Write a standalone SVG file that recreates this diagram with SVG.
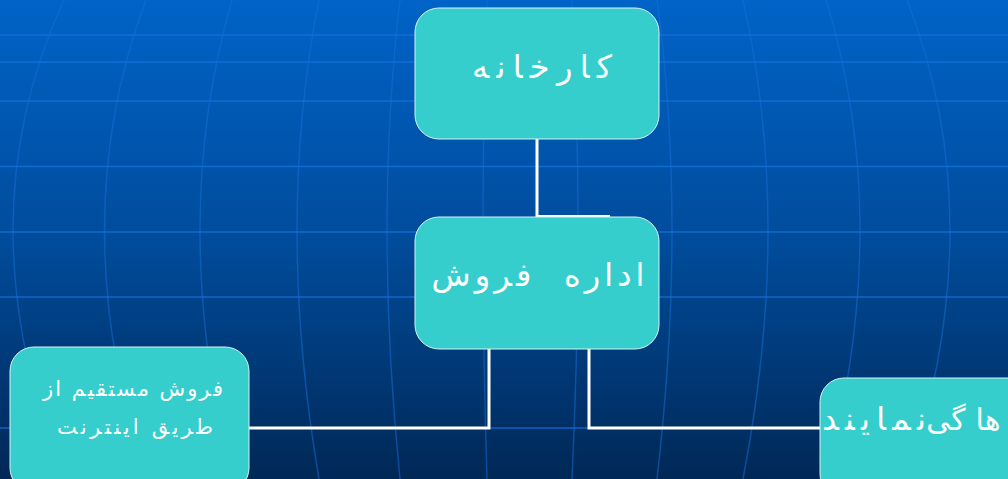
<svg xmlns="http://www.w3.org/2000/svg" width="1008" height="479" viewBox="0 0 1008 479">
<defs>
<linearGradient id="bg" x1="0" y1="0" x2="0" y2="1">
<stop offset="0" stop-color="#0063C7"/>
<stop offset="0.5" stop-color="#004C9C"/>
<stop offset="1" stop-color="#002856"/>
</linearGradient>
<style>
.grid{stroke:#1673E0;stroke-width:1.6;fill:none;opacity:0.75}
.mer{stroke:#1670DA;stroke-width:1.5;fill:none;opacity:0.5}
.node{fill:#35CECC;stroke:#D8F2F2;stroke-width:1}
.lbl{fill:#FFFFFF;font-family:"DejaVu Sans",sans-serif;text-anchor:middle;direction:rtl}
.con{stroke:#FFFFFF;stroke-width:3;fill:none}
</style>
</defs>
<rect width="1008" height="479" fill="url(#bg)"/>
<g id="background-grid">
<line class="grid" x1="0" y1="35" x2="1008" y2="35"/>
<line class="grid" x1="0" y1="62" x2="1008" y2="62" opacity="0.25"/>
<line class="grid" x1="0" y1="101" x2="1008" y2="101"/>
<line class="grid" x1="0" y1="166.5" x2="1008" y2="166.5"/>
<line class="grid" x1="0" y1="232" x2="1008" y2="232"/>
<line class="grid" x1="0" y1="297" x2="1008" y2="297"/>
<line class="grid" x1="0" y1="428" x2="1008" y2="428" opacity="0.3"/>
<path class="mer" d="M64,0 Q-38,221 64,479"/>
<path class="mer" d="M146,0 Q63,221 146,479"/>
<path class="mer" d="M232,0 Q168,221 232,479"/>
<path class="mer" d="M319,0 Q275,221 319,479"/>
<path class="mer" d="M400,0 Q374,221 400,479"/>
<path class="mer" d="M487,0 Q479,221 487,479"/>
<path class="mer" d="M572,0 Q584,221 572,479"/>
<path class="mer" d="M657,0 Q687,221 657,479"/>
<path class="mer" d="M743,0 Q793,221 743,479"/>
<path class="mer" d="M826,0 Q894,221 826,479"/>
<path class="mer" d="M907,0 Q993,221 907,479"/>
</g>
<g id="connectors">
<line class="con" x1="537" y1="139" x2="537" y2="217"/>
<line x1="537" y1="216" x2="610" y2="216" stroke="#FFFFFF" stroke-width="2"/>
<path class="con" d="M489,349 V428 H249"/>
<path class="con" d="M589,349 V428 H820"/>
</g>
<g id="node-factory">
<rect class="node" x="415" y="8" width="244" height="131" rx="24"/>
<text class="lbl" x="542" y="78" font-size="32" textLength="140" lengthAdjust="spacing">کارخانه</text>
</g>
<g id="node-sales-office">
<rect class="node" x="415" y="217" width="244" height="132" rx="24"/>
<text class="lbl" x="538" y="286" font-size="32" textLength="213" lengthAdjust="spacing" xml:space="preserve">اداره  فروش</text>
</g>
<g id="node-online-sales">
<rect class="node" x="10" y="347" width="239" height="145" rx="24"/>
<text class="lbl" x="133" y="396" font-size="21" textLength="180" lengthAdjust="spacing">فروش مستقیم از</text>
<text class="lbl" x="135" y="434" font-size="21" textLength="156" lengthAdjust="spacing">طریق اینترنت</text>
</g>
<g id="node-agencies">
<rect class="node" x="820" y="378" width="240" height="120" rx="24"/>
<text class="lbl" x="874" y="430" font-size="32" textLength="104" lengthAdjust="spacing">نمایند</text>
<text class="lbl" x="946" y="430" font-size="30">گی</text>
<text class="lbl" x="988" y="430" font-size="30">ها</text>
</g>
</svg>
